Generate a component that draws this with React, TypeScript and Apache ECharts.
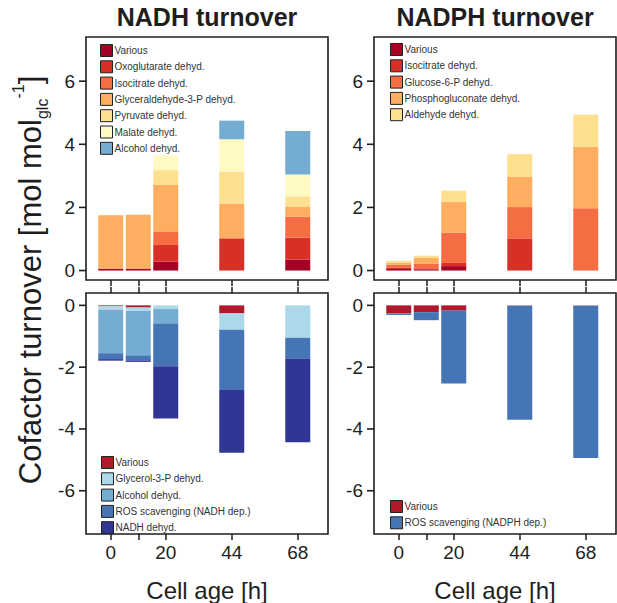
import React, { useEffect, useRef } from "react";
import * as echarts from "echarts";

// ---- data ----
const ages = [0, 10, 20, 44, 68];
const xTickValues = ["0", "10", "20", "44", "68"];
const xLabelValues = ["0", "20", "44", "68"];
const hourMin = -9;
const hourMax = 79;
const yTopTicks = [0, 2, 4, 6];
const yBottomTicks = [0, -2, -4, -6];
// axis extents
const yTopRange = [-0.3, 7.4];
const yBottomRange = [-7.4, 0.4];

// NADH production (segments, bottom to top)
const nadhProdNames = [
  "Various",
  "Oxoglutarate dehyd.",
  "Isocitrate dehyd.",
  "Glyceraldehyde-3-P dehyd.",
  "Pyruvate dehyd.",
  "Malate dehyd.",
  "Alcohol dehyd.",
];
const nadhProdColors = ["#a50026", "#d73027", "#f46d43", "#fdae61", "#fee090", "#fff9c4", "#74add1"];
const nadhProdVarious = [0.06, 0.06, 0.28, 0, 0.35];
const nadhProdOxoglutarate = [0, 0, 0.53, 1.02, 0.69];
const nadhProdIsocitrate = [0, 0, 0.43, 0, 0.67];
const nadhProdGlyceraldehyde = [1.69, 1.71, 1.47, 1.1, 0.32];
const nadhProdPyruvate = [0, 0, 0.47, 1.02, 0.32];
const nadhProdMalate = [0, 0, 0.47, 1.02, 0.69];
const nadhProdAlcohol = [0, 0, 0, 0.59, 1.38];

// NADH consumption (segments, top to bottom)
const nadhConsNames = [
  "Various",
  "Glycerol-3-P dehyd.",
  "Alcohol dehyd.",
  "ROS scavenging (NADH dep.)",
  "NADH dehyd.",
];
const nadhConsColors = ["#b2182b", "#abd9e9", "#74add1", "#4575b4", "#313695"];
const nadhConsVarious = [-0.03, -0.07, 0, -0.26, 0];
const nadhConsGlycerol = [-0.12, -0.11, -0.12, -0.53, -1.05];
const nadhConsAlcohol = [-1.4, -1.44, -0.47, 0, 0];
const nadhConsRos = [-0.19, -0.16, -1.38, -1.95, -0.68];
const nadhConsNadh = [-0.05, -0.05, -1.69, -2.03, -2.7];

// NADPH production
const nadphProdNames = [
  "Various",
  "Isocitrate dehyd.",
  "Glucose-6-P dehyd.",
  "Phosphogluconate dehyd.",
  "Aldehyde dehyd.",
];
const nadphProdColors = ["#a50026", "#d73027", "#f46d43", "#fdae61", "#fee090"];
const nadphProdVarious = [0.05, 0.04, 0.14, 0, 0];
const nadphProdIsocitrate = [0.05, 0.03, 0.1, 1.02, 0.01];
const nadphProdG6p = [0.08, 0.14, 0.96, 0.99, 1.96];
const nadphProdPhospho = [0.07, 0.19, 0.97, 0.97, 1.95];
const nadphProdAldehyde = [0.06, 0.07, 0.36, 0.71, 1.02];

// NADPH consumption
const nadphConsNames = ["Various", "ROS scavenging (NADPH dep.)"];
const nadphConsColors = ["#b2182b", "#4575b4"];
const nadphConsVarious = [-0.26, -0.22, -0.17, -0.01, -0.01];
const nadphConsRos = [-0.05, -0.26, -2.36, -3.69, -4.93];

const FONT = "'Liberation Sans', Arial, Helvetica, sans-serif";
const INK = "#1e1e1e";

export default function App() {
  const ref = useRef<HTMLDivElement>(null);

  useEffect(() => {
    if (!ref.current) return;
    const chart = echarts.init(ref.current, null, { renderer: "svg" });

    const hours: string[] = [];
    for (let h = hourMin; h <= hourMax; h++) hours.push(String(h));

    const grids = [
      { left: 86, top: 37, width: 242, height: 243 },
      { left: 86, top: 293, width: 242, height: 247 },
      { left: 374, top: 37, width: 242, height: 243 },
      { left: 374, top: 293, width: 242, height: 247 },
    ].map((g) => ({
      ...g,
      show: true,
      borderColor: INK,
      borderWidth: 1.6,
      backgroundColor: "transparent",
      containLabel: false,
    }));

    const xBase = {
      type: "category",
      data: hours,
      boundaryGap: false,
      splitLine: { show: false },
      axisLine: { show: false, onZero: false },
    };
    const tickStyle = {
      show: true,
      inside: false,
      length: 6,
      lineStyle: { color: INK, width: 1.5 },
      interval: (_i: number, v: string) => xTickValues.indexOf(v) >= 0,
    };
    const labeled = (gridIndex: number) => ({
      ...xBase,
      gridIndex,
      position: "bottom",
      axisTick: tickStyle,
      axisLabel: {
        show: true,
        interval: (_i: number, v: string) => xLabelValues.indexOf(v) >= 0,
        fontSize: 19,
        fontFamily: FONT,
        color: INK,
        margin: 9,
      },
      name: "Cell age [h]",
      nameLocation: "middle",
      nameGap: 44,
      nameTextStyle: { fontSize: 24, fontFamily: FONT, color: INK },
    });
    const plain = (gridIndex: number, position: string) => ({
      ...xBase,
      gridIndex,
      position,
      axisTick: tickStyle,
      axisLabel: { show: false },
    });
    const xAxes: any[] = [
      plain(0, "bottom"), // 0
      labeled(1), // 1
      plain(1, "top"), // 2
      plain(2, "bottom"), // 3
      labeled(3), // 4
      plain(3, "top"), // 5
    ];

    const yAxis = (gridIndex: number, top: boolean) => {
      const r = top ? yTopRange : yBottomRange;
      return {
        type: "value",
        gridIndex,
        position: "left",
        min: r[0],
        max: r[1],
        splitLine: { show: false },
        axisLine: { show: false, onZero: false },
        axisTick: { show: false },
        axisLabel: {
          show: true,
          customValues: top ? yTopTicks : yBottomTicks,
          fontSize: 19,
          fontFamily: FONT,
          color: INK,
          margin: 11,
        },
      };
    };
    const yAxes = [yAxis(0, true), yAxis(1, false), yAxis(2, true), yAxis(3, false)];

    const series: any[] = [];
    const addPanel = (
      names: string[],
      colors: string[],
      values: number[][],
      xAxisIndex: number,
      yAxisIndex: number,
      stack: string
    ) => {
      names.forEach((name, i) => {
        series.push({
          type: "bar",
          name,
          stack,
          xAxisIndex,
          yAxisIndex,
          barWidth: 25,
          itemStyle: { color: colors[i] },
          data: ages.map((a, k) => [String(a), values[i][k]]),
        });
      });
    };
    addPanel(
      nadhProdNames,
      nadhProdColors,
      [
        nadhProdVarious,
        nadhProdOxoglutarate,
        nadhProdIsocitrate,
        nadhProdGlyceraldehyde,
        nadhProdPyruvate,
        nadhProdMalate,
        nadhProdAlcohol,
      ],
      0,
      0,
      "tl"
    );
    addPanel(
      nadhConsNames,
      nadhConsColors,
      [nadhConsVarious, nadhConsGlycerol, nadhConsAlcohol, nadhConsRos, nadhConsNadh],
      1,
      1,
      "bl"
    );
    addPanel(
      nadphProdNames,
      nadphProdColors,
      [nadphProdVarious, nadphProdIsocitrate, nadphProdG6p, nadphProdPhospho, nadphProdAldehyde],
      3,
      2,
      "tr"
    );
    addPanel(nadphConsNames, nadphConsColors, [nadphConsVarious, nadphConsRos], 4, 3, "br");

    const legend = (names: string[], colors: string[], left: number, top: number) => ({
      orient: "vertical",
      left,
      top,
      itemWidth: 12,
      itemHeight: 12,
      itemGap: 3.3,
      selectedMode: false,
      icon: "rect",
      padding: 0,
      textStyle: { fontSize: 10, fontFamily: FONT, color: "#333", padding: [0, 0, 0, -3] },
      data: names.map((n, i) => ({
        name: n,
        icon: "rect",
        itemStyle: { color: colors[i], borderColor: "#222", borderWidth: 1 },
      })),
    });

    const texts: any[] = [
      {
        type: "text",
        id: "t-nadh",
        x: 207,
        y: 17,
        style: {
          text: "NADH turnover",
          font: `bold 25px ${FONT}`,
          fill: INK,
          textAlign: "center",
          textVerticalAlign: "middle",
        },
      },
      {
        type: "text",
        id: "t-nadph",
        x: 495,
        y: 17,
        style: {
          text: "NADPH turnover",
          font: `bold 25px ${FONT}`,
          fill: INK,
          textAlign: "center",
          textVerticalAlign: "middle",
        },
      },
      {
        type: "text",
        id: "t-y",
        x: 30,
        y: 280,
        rotation: Math.PI / 2,
        style: {
          text: "{a|Cofactor turnover [mol mol}{sub|glc}{sup|-1}{a|]}",
          textAlign: "center",
          textVerticalAlign: "middle",
          fill: INK,
          rich: {
            a: { fontSize: 31, fontFamily: FONT, color: INK, lineHeight: 40 },
            sub: { fontSize: 16, fontFamily: FONT, color: INK, lineHeight: 16, verticalAlign: "bottom" },
            sup: { fontSize: 16, fontFamily: FONT, color: INK, lineHeight: 16, verticalAlign: "top" },
          },
        },
      },
    ];

    chart.setOption({
      animation: false,
      grid: grids,
      xAxis: xAxes,
      yAxis: yAxes,
      series,
      legend: [
        legend(nadhProdNames, nadhProdColors, 100, 44),
        legend(nadhConsNames, nadhConsColors, 101, 456),
        legend(nadphProdNames, nadphProdColors, 390, 43),
        legend(nadphConsNames, nadphConsColors, 390, 500),
      ],
      graphic: texts,
    });

    // y-axis tick marks, positioned through the chart's own scales
    const tickLines: any[] = [];
    const panels = [
      { xAxisIndex: 0, yAxisIndex: 0, ticks: yTopTicks },
      { xAxisIndex: 1, yAxisIndex: 1, ticks: yBottomTicks },
      { xAxisIndex: 3, yAxisIndex: 2, ticks: yTopTicks },
      { xAxisIndex: 4, yAxisIndex: 3, ticks: yBottomTicks },
    ];
    panels.forEach((p, pi) => {
      const left = chart.convertToPixel({ xAxisIndex: p.xAxisIndex }, String(hourMin)) as number;
      p.ticks.forEach((v, ti) => {
        const y = chart.convertToPixel({ yAxisIndex: p.yAxisIndex }, v) as number;
        if (typeof left !== "number" || typeof y !== "number" || isNaN(left) || isNaN(y)) return;
        tickLines.push({
          type: "line",
          id: `yt-${pi}-${ti}`,
          shape: { x1: left - 7, y1: y, x2: left, y2: y },
          style: { stroke: INK, lineWidth: 1.6 },
          z: 10,
        });
      });
    });
    chart.setOption({ graphic: [...texts, ...tickLines] });

    return () => chart.dispose();
  }, []);

  return (
    <div
      ref={ref}
      style={{ position: "fixed", left: 0, top: 0, width: 617, height: 603, background: "#fff" }}
    />
  );
}
